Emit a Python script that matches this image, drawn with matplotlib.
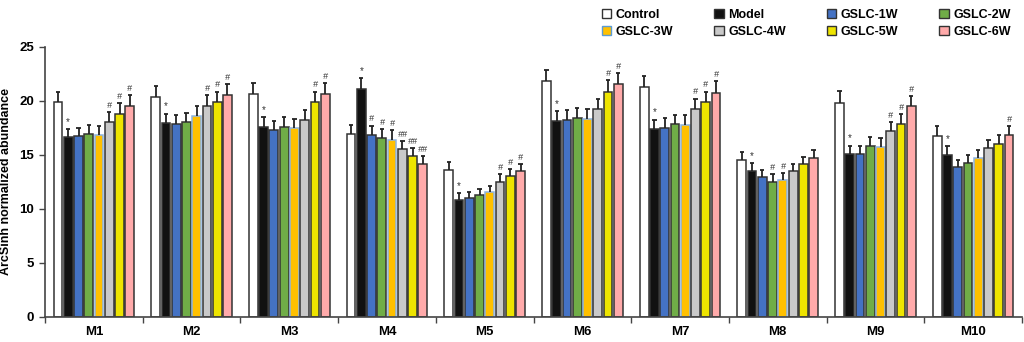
import matplotlib
matplotlib.use('Agg')
import matplotlib.pyplot as plt
import matplotlib.patches as mpatches
import numpy as np

plt.rcParams['font.family'] = ['Liberation Sans', 'DejaVu Sans']
plt.rcParams['font.weight'] = 'bold'

# data
categories = ['M1', 'M2', 'M3', 'M4', 'M5', 'M6', 'M7', 'M8', 'M9', 'M10']
groups = ['Control', 'Model', 'GSLC-1W', 'GSLC-2W', 'GSLC-3W', 'GSLC-4W', 'GSLC-5W', 'GSLC-6W']

control = [19.9, 20.3, 20.65, 16.9, 13.6, 21.8, 21.25, 14.55, 19.8, 16.75]
model   = [16.6, 17.9, 17.55, 21.1, 10.8, 18.1, 17.4, 13.5, 15.05, 14.95]
gslc1w  = [16.7, 17.8, 17.3, 16.85, 11.0, 18.2, 17.5, 12.9, 15.1, 13.9]
gslc2w  = [16.9, 18.0, 17.6, 16.5, 11.25, 18.4, 17.8, 12.5, 15.85, 14.25]
gslc3w  = [16.85, 18.6, 17.45, 16.4, 11.5, 18.3, 17.75, 12.65, 15.7, 14.65]
gslc4w  = [18.0, 19.5, 18.2, 15.5, 12.5, 19.2, 19.2, 13.45, 17.15, 15.6]
gslc5w  = [18.8, 19.85, 19.85, 14.85, 13.05, 20.85, 19.9, 14.1, 17.85, 15.95]
gslc6w  = [19.55, 20.5, 20.65, 14.15, 13.5, 21.5, 20.75, 14.7, 19.5, 16.8]

control_err = [0.95, 1.05, 1.0, 0.85, 0.7, 1.05, 1.05, 0.7, 1.1, 0.9]
model_err   = [0.8, 0.9, 0.9, 1.0, 0.65, 0.9, 0.85, 0.7, 0.8, 0.85]
gslc1w_err  = [0.8, 0.85, 0.85, 0.85, 0.5, 0.9, 0.9, 0.7, 0.75, 0.65]
gslc2w_err  = [0.85, 0.9, 0.85, 0.85, 0.6, 0.95, 0.9, 0.7, 0.8, 0.75]
gslc3w_err  = [0.85, 0.95, 0.85, 0.85, 0.6, 0.95, 0.9, 0.65, 0.8, 0.75]
gslc4w_err  = [0.95, 1.0, 0.9, 0.8, 0.7, 1.0, 1.0, 0.65, 0.9, 0.75]
gslc5w_err  = [0.95, 1.0, 1.0, 0.8, 0.6, 1.05, 0.95, 0.7, 0.95, 0.85]
gslc6w_err  = [0.95, 1.05, 1.0, 0.7, 0.65, 1.05, 1.05, 0.7, 0.95, 0.85]

control_sig = [''] * 10
model_sig   = ['*'] * 10
gslc1w_sig  = ['', '', '', '#', '', '', '', '', '', '']
gslc2w_sig  = ['', '', '', '#', '', '', '', '#', '', '']
gslc3w_sig  = ['', '', '', '#', '', '', '', '#', '', '']
gslc4w_sig  = ['#', '#', '', '##', '#', '', '#', '', '#', '']
gslc5w_sig  = ['#', '#', '#', '##', '#', '#', '#', '', '#', '']
gslc6w_sig  = ['#', '#', '#', '##', '#', '#', '#', '', '#', '#']

values = [control, model, gslc1w, gslc2w, gslc3w, gslc4w, gslc5w, gslc6w]
errors = [control_err, model_err, gslc1w_err, gslc2w_err, gslc3w_err, gslc4w_err, gslc5w_err, gslc6w_err]
signs = [control_sig, model_sig, gslc1w_sig, gslc2w_sig, gslc3w_sig, gslc4w_sig, gslc5w_sig, gslc6w_sig]

colors = ['#FFFFFF', '#111111', '#4472C4', '#70AD47', '#FFC000', '#C9C9C9', '#EEE400', '#FFAAAA']
edges = ['#333333', '#333333', '#333333', '#333333', '#8DB4E2', '#333333', '#333333', '#333333']

fig = plt.figure(figsize=(10.24, 3.42), dpi=100)
ax = fig.add_axes([0.044, 0.074, 0.954, 0.7895])

x = np.arange(len(categories))
pitch = 0.105
width = 0.09
capw = 0.022

for j in range(len(groups)):
    xs = x + (j - 3.5) * pitch
    vals = np.array(values[j])
    errs = np.array(errors[j])
    ax.bar(xs, vals, width, color=colors[j], edgecolor=edges[j], linewidth=1.1, zorder=2)
    ax.vlines(xs, vals, vals + errs, color='#222222', linewidth=1.3, zorder=3)
    ax.hlines(vals + errs, xs - capw, xs + capw, color='#222222', linewidth=1.3, zorder=3)
    for k in range(len(categories)):
        if signs[j][k]:
            ax.annotate(signs[j][k], (xs[k], vals[k] + errs[k]), xytext=(0, 1.5),
                        textcoords='offset points', ha='center', va='bottom',
                        fontsize=7 if signs[j][k] == '*' else 6.5,
                        fontweight='normal', color='#333333',
                        style='italic' if '#' in signs[j][k] else 'normal')

ax.set_xlim(-0.5, len(categories) - 0.5)
ax.set_ylim(0, 25)
ax.set_yticks([0, 5, 10, 15, 20, 25])
ax.set_xticks(x)
ax.set_xticklabels(categories, fontsize=9.5, fontweight='bold')
ax.set_xticks(np.arange(-0.5, len(categories)), minor=True)
ax.tick_params(axis='x', which='major', length=0, pad=7)
ax.tick_params(axis='x', which='minor', length=4, width=1, color='#444444')
ax.tick_params(axis='y', length=4, width=1, color='#444444', labelsize=9.5, pad=4)
for lab in ax.get_yticklabels():
    lab.set_fontweight('bold')
ax.set_ylabel('ArcSinh normalized abundance', fontsize=9, fontweight='bold', labelpad=5)

ax.spines['top'].set_visible(False)
ax.spines['right'].set_visible(False)
ax.spines['left'].set_color('#444444')
ax.spines['bottom'].set_color('#444444')
ax.spines['left'].set_linewidth(1.2)
ax.spines['bottom'].set_linewidth(1.2)

# legend, 2 rows of 4
order = [0, 4, 1, 5, 2, 6, 3, 7]
handles = [mpatches.Patch(facecolor=colors[i], edgecolor=('#5B9BD5' if i == 4 else '#333333'), linewidth=1)
           for i in order]
labels = [groups[i] for i in order]
fig.legend(handles, labels, ncol=4, loc='upper right', bbox_to_anchor=(0.998, 1.008),
           frameon=False, handlelength=0.75, handleheight=0.75,
           handletextpad=0.35, columnspacing=3.3, labelspacing=0.4,
           prop={'weight': 'bold', 'size': 9})

plt.savefig('out.png', dpi=100)
